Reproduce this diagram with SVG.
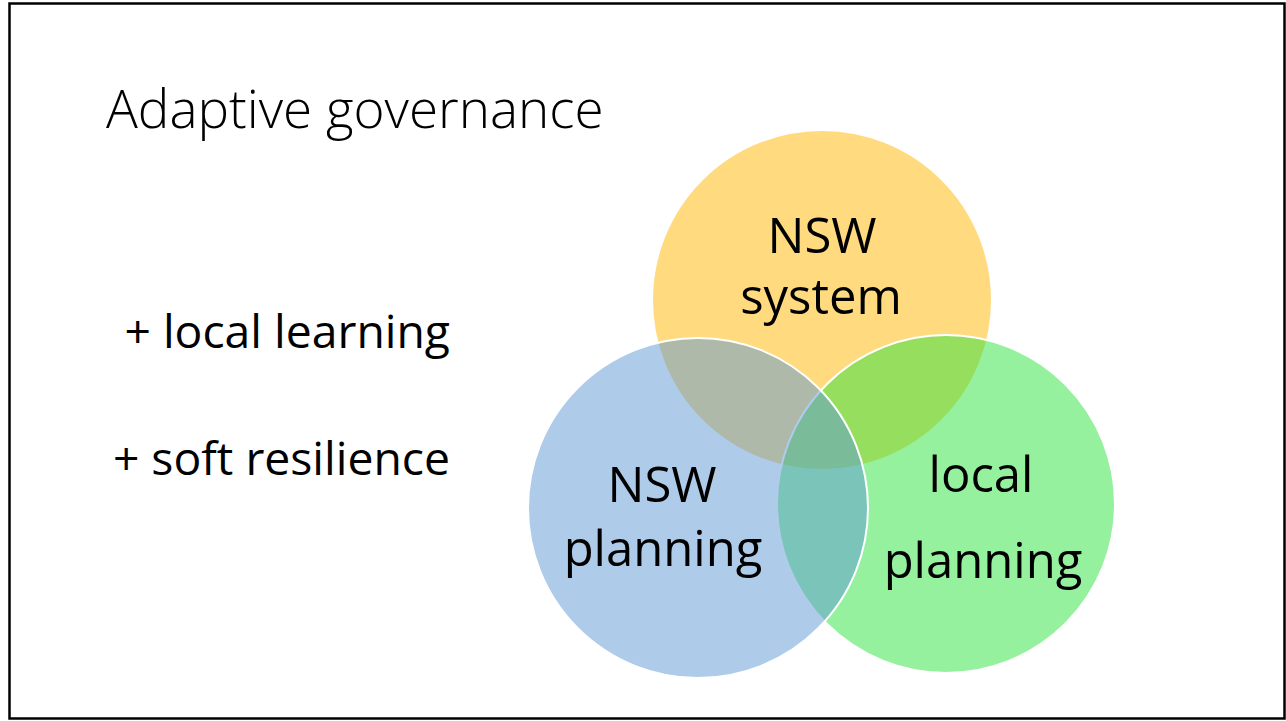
<svg xmlns="http://www.w3.org/2000/svg" width="1286" height="721" viewBox="0 0 1286 721">
<style>
.lbl{font-family:"Open Sans","Liberation Sans",sans-serif;font-size:46.3px;fill:#000}
.cl{font-family:"Open Sans","Liberation Sans",sans-serif;font-size:49px;fill:#000}
.title{font-family:"Open Sans","Liberation Sans",sans-serif;font-weight:300;font-size:53px;fill:#000}
.c{fill-opacity:0.5;stroke:#fff;stroke-width:2}
</style>
<rect x="9.5" y="3.5" width="1275" height="715" fill="#fff" stroke="#000" stroke-width="2.5"/>
<text class="title" x="106" y="128">Adaptive governance</text>
<text class="lbl" x="450" y="348" text-anchor="end">+ local learning</text>
<text class="lbl" x="450" y="475" text-anchor="end">+ soft resilience</text>
<g id="yellow"><circle class="c" cx="822" cy="300" r="170" fill="#FFB500"/></g>
<g id="green"><circle class="c" cx="946" cy="504" r="169" fill="#2DE33D"/></g>
<g id="blue"><circle class="c" cx="698" cy="508" r="170" fill="#5D97D3"/></g>
<g id="labels">
<text class="cl" x="822" y="253" text-anchor="middle">NSW</text>
<text class="cl" x="821" y="314" text-anchor="middle">system</text>
<text class="cl" x="662" y="502" text-anchor="middle">NSW</text>
<text class="cl" x="663" y="566" text-anchor="middle">planning</text>
<text class="cl" x="981" y="492" text-anchor="middle">local</text>
<text class="cl" x="983" y="578" text-anchor="middle">planning</text>
</g>
<g id="connectors"/>
</svg>
